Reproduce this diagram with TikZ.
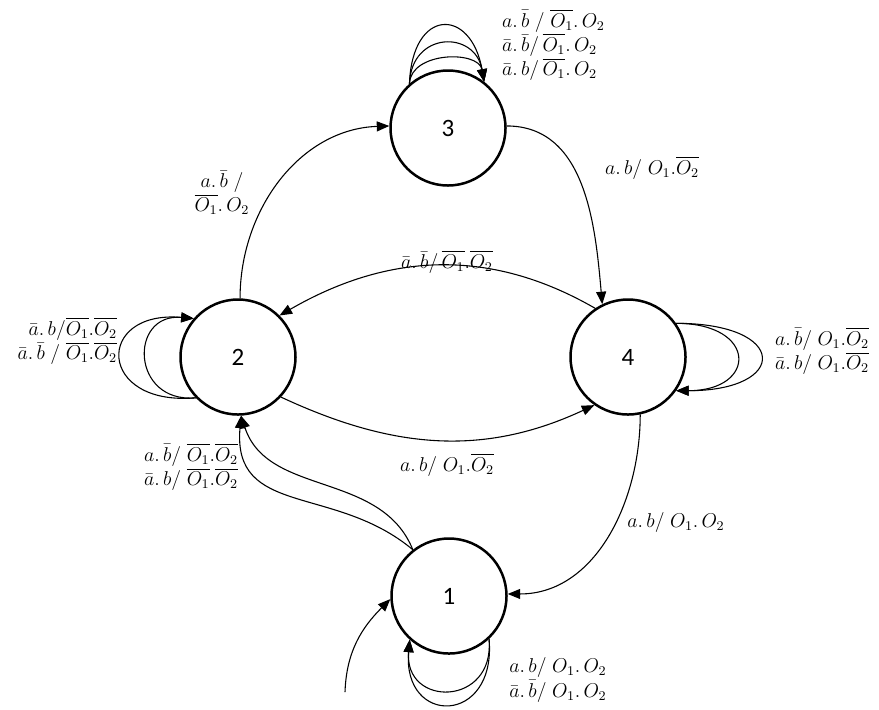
\documentclass[tikz,border=0pt]{standalone}
\usepackage{fontspec}
\newfontfamily\numfont{Carlito}
\usepackage{amsmath}
\usepackage{tikz}
\usetikzlibrary{arrows.meta}

\begin{document}
\begin{tikzpicture}[x=0.6pt, y=0.6pt,
    state/.style={draw, circle, line width=1.5pt, minimum size=69pt, inner sep=0pt, font=\numfont\fontsize{15}{18}\selectfont},
    arrow/.style={-{Triangle[length=7.5pt, width=6pt]}, line width=0.65pt},
    lbl/.style={font=\fontsize{12}{14.5}\selectfont, inner sep=1pt}
]
\useasboundingbox (0,0) rectangle (879,-709);

\node[state] (s3) at (448,-128) {3};
\node[state] (s2) at (238,-357) {2};
\node[state] (s4) at (628,-357) {4};
\node[state] (s1) at (449,-596) {1};
\coordinate (init) at (345,-692);

\draw[arrow] (s2.88) to[out=90,in=182] (s3.178);
\draw[arrow] (s3.2) to[out=0,in=95] (s4.116);
\draw[arrow] (s4.124) to[out=150,in=30] (s2.45);
\draw[arrow] (s2.-43) to[out=-25,in=205] (s4.-125);
\draw[arrow] (s4.-78) to[out=-90,in=0] (s1.2);
\draw[arrow] (s1.128) to[out=112,in=-72] (s2.-87);
\draw[arrow] (s1.128) to[out=140,in=-95,looseness=1.2] (s2.-87);
\draw[arrow] (init) to[out=88,in=225] (s1.183);

\draw[arrow] (s3.131) to[out=88,in=100,looseness=2.6] (s3.52);
\draw[arrow] (s3.131) to[out=88,in=100,looseness=1.8] (s3.52);
\draw[arrow] (s3.131) to[out=88,in=100,looseness=1.1] (s3.52);
\draw[arrow] (s2.224) to[out=185,in=175,looseness=3.2] (s2.139);
\draw[arrow] (s2.224) to[out=185,in=175,looseness=2.1] (s2.139);
\draw[arrow] (s4.35) to[out=0,in=0,looseness=4.3] (s4.-35);
\draw[arrow] (s4.35) to[out=0,in=0,looseness=3.1] (s4.-35);
\draw[arrow] (s1.-47) to[out=-85,in=-95,looseness=2.8] (s1.228);
\draw[arrow] (s1.-47) to[out=-85,in=-95,looseness=2.2] (s1.228);

\node[lbl, anchor=west, align=left] (l33) at (500,-45) {$a.\,\bar b\;/\;\overline{O_1}.\,O_2$\\$\bar a.\,\bar b/\,\overline{O_1}.\,O_2$\\$\bar a.\,b/\,\overline{O_1}.\,O_2$};
\node[lbl, align=center] (l23) at (222,-193) {$a.\,\bar b\;/$\\$\overline{O_1}.\,O_2$};
\node[lbl] (l34) at (652,-168) {$a.\,b/\;O_1.\overline{O_2}$};
\node[lbl] (l42) at (447,-262) {$\bar a.\,\bar b/\,\overline{O_1}.\overline{O_2}$};
\node[lbl, anchor=east, align=right] (l22) at (119,-341) {$\bar a.\,b/\overline{O_1}.\overline{O_2}$\\$\bar a.\,\bar b\;/\;\overline{O_1}.\overline{O_2}$};
\node[lbl, anchor=west, align=left] (l44) at (773,-351) {$a.\,\bar b/\;O_1.\overline{O_2}$\\$\bar a.\,b/\;O_1.\overline{O_2}$};
\node[lbl] (l24) at (447,-465) {$a.\,b/\;O_1.\overline{O_2}$};
\node[lbl, align=center] (l12) at (191,-467) {$a.\,\bar b/\;\overline{O_1}.\overline{O_2}$\\$\bar a.\,b/\;\overline{O_1}.\overline{O_2}$};
\node[lbl] (l41) at (676,-522) {$a.\,b/\;O_1.\,O_2$};
\node[lbl, align=center] (l11) at (558,-680) {$a.\,b/\;O_1.\,O_2$\\$\bar a.\,\bar b/\;O_1.\,O_2$};
\end{tikzpicture}
\end{document}
